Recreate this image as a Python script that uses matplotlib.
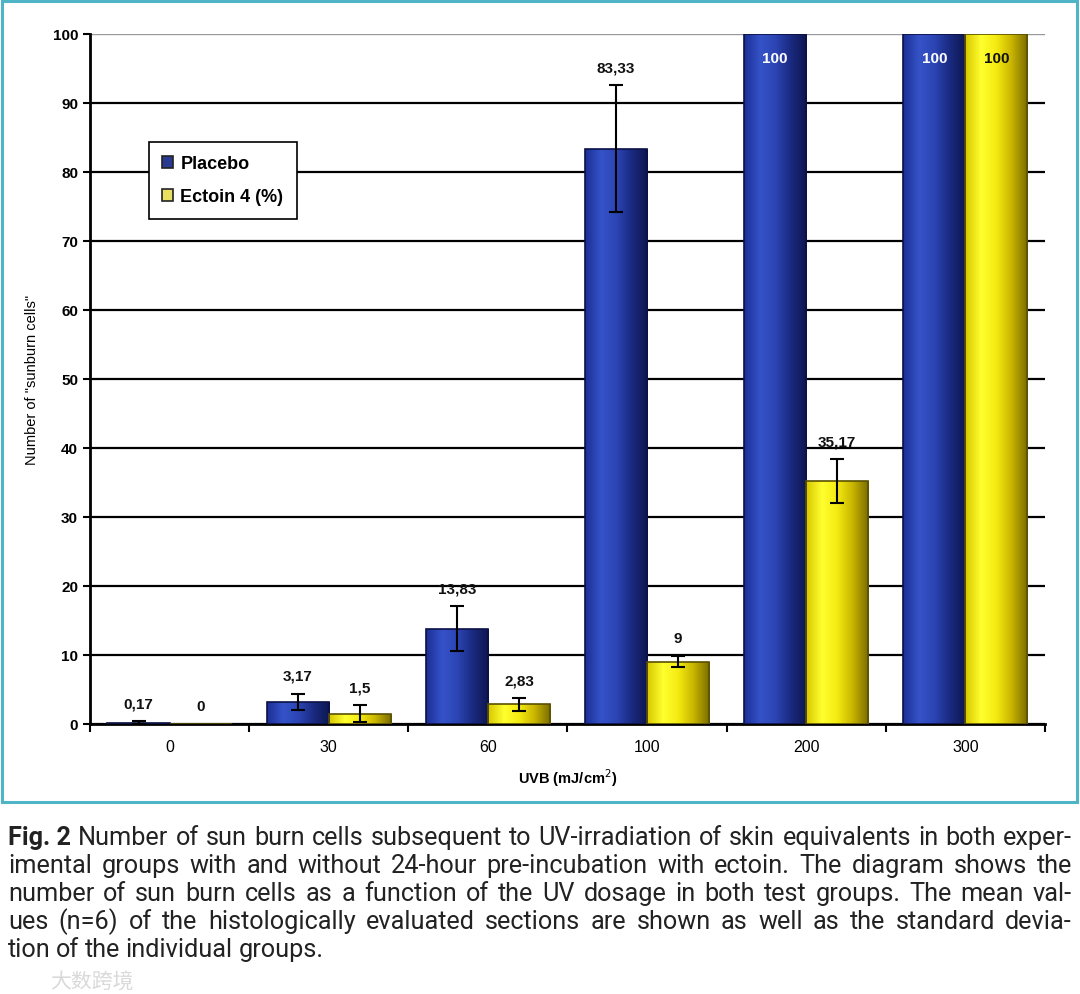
import numpy as np
import matplotlib
matplotlib.use("Agg")
import matplotlib.pyplot as plt
from matplotlib.colors import LinearSegmentedColormap
from matplotlib.patches import Rectangle

# data
doses = ["0", "30", "60", "100", "200", "300"]
placebo = [0.17, 3.17, 13.83, 83.33, 100, 100]
placebo_sd = [0.2, 1.2, 3.2, 9.2, 0, 0]
ectoin = [0, 1.5, 2.83, 9, 35.17, 100]
ectoin_sd = [0, 1.2, 0.9, 0.8, 3.2, 0]
series_names = ["Placebo", "Ectoin 4 (%)"]

caption = [
    "Number of sun burn cells subsequent to UV-irradiation of skin equivalents in both exper-",
    "imental groups with and without 24-hour pre-incubation with ectoin. The diagram shows the",
    "number of sun burn cells as a function of the UV dosage in both test groups. The mean val-",
    "ues (n=6) of the histologically evaluated sections are shown as well as the standard devia-",
    "tion of the individual groups.",
]

plt.rcParams['font.family'] = ['Liberation Sans', 'DejaVu Sans']

blue_cm = LinearSegmentedColormap.from_list(
    "b", ["#1c2f96", "#3553c8", "#2c45b4", "#1a2a80", "#0e1650"])
yellow_cm = LinearSegmentedColormap.from_list(
    "y", ["#d8c800", "#ffff30", "#f4ea10", "#c8b400", "#7a6c00"])

fig = plt.figure(figsize=(10.8, 9.95), dpi=100)
ax = fig.add_axes([0.0833, 0.2714, 0.8843, 0.6935])

x = np.arange(len(doses))
w = 0.39
grad = np.linspace(0, 1, 64).reshape(1, -1)


def shaded_bars(xs, vals, cmap, edge):
    bars = ax.bar(xs, vals, w, color="none", edgecolor=edge, linewidth=1.2, zorder=3)
    for b in bars:
        x0, y0 = b.get_x(), b.get_y()
        im = ax.imshow(grad, cmap=cmap, aspect="auto", zorder=2.9,
                       extent=[x0, x0 + b.get_width(), y0, y0 + b.get_height()])
        im.set_clip_path(b)
    return bars


bp = shaded_bars(x - w / 2, placebo, blue_cm, "#0b1245")
be = shaded_bars(x + w / 2, ectoin, yellow_cm, "#5a5000")

ekw = dict(fmt="none", ecolor="black", elinewidth=1.5, capsize=5, capthick=1.5, zorder=4)
for xs, vals, sd in [(x - w / 2, placebo, placebo_sd), (x + w / 2, ectoin, ectoin_sd)]:
    m = np.array(sd) > 0
    ax.errorbar(np.array(xs)[m], np.array(vals)[m], yerr=np.array(sd)[m], **ekw)

# value labels
for xs, vals, sd, inner in [(x - w / 2, placebo, placebo_sd, "white"),
                            (x + w / 2, ectoin, ectoin_sd, "#111111")]:
    for xi, v, s in zip(xs, vals, sd):
        txt = ("%g" % v).replace(".", ",")
        if v >= 100:
            ax.annotate(txt, (xi, v), xytext=(0, -12), textcoords="offset points",
                        ha="center", va="top", fontsize=11, fontweight="bold",
                        color=inner, zorder=5)
        else:
            ax.annotate(txt, (xi, v + s), xytext=(0, 8), textcoords="offset points",
                        ha="center", va="bottom", fontsize=11, fontweight="bold",
                        color="#111111", zorder=5)

ax.set_xlim(-0.5, len(doses) - 0.5)
ax.set_ylim(0, 100)
ax.set_yticks(np.arange(0, 101, 10))
ax.tick_params(axis="y", labelsize=11, length=5, width=1.5, direction="out")
for lab in ax.get_yticklabels():
    lab.set_fontweight("bold")
ax.set_xticks(x)
ax.set_xticklabels(doses, fontsize=11.5)
ax.set_xticks(np.arange(-0.5, len(doses), 1), minor=True)
ax.tick_params(axis="x", which="major", length=0, pad=11)
ax.tick_params(axis="x", which="minor", length=6, width=1.5, direction="out")
ax.grid(axis="y", color="black", linewidth=1.6, zorder=0)
ax.yaxis.get_gridlines()[-1].set_color("#999999")
ax.yaxis.get_gridlines()[-1].set_linewidth(1.0)
ax.set_axisbelow(True)
for side in ["top", "right"]:
    ax.spines[side].set_visible(False)
for side in ["left", "bottom"]:
    ax.spines[side].set_linewidth(2)

ax.set_xlabel("UVB (mJ/cm$^{2}$)", fontsize=10.5, fontweight="bold", labelpad=9)
ax.set_ylabel('Number of "sunburn cells"', fontsize=10.5, labelpad=10)

leg = ax.legend([bp, be], series_names, loc="upper left",
                bbox_to_anchor=(0.052, 0.857), fancybox=False, edgecolor="black",
                framealpha=1, prop=dict(weight="bold", size=13),
                handlelength=0.6, handleheight=0.6, handletextpad=0.4,
                labelspacing=0.9, borderpad=0.75)
leg.get_frame().set_linewidth(1.2)
for h, c in zip(leg.legend_handles, ["#2a3a90", "#e8e060"]):
    h.set_facecolor(c)
    h.set_edgecolor("#222222")

# cyan frame around the chart
fig.patches.append(Rectangle((0.002, 0.193), 0.995, 0.805, transform=fig.transFigure,
                             fill=False, edgecolor="#4fb5c6", linewidth=2.2))

# caption, justified; font size chosen so the longest line fits the width
cap_font = ['Roboto', 'DejaVu Sans']
renderer = fig.canvas.get_renderer()
left, right = 8, 1072
probe = fig.text(0, 0, "Fig. 2 " + caption[0], fontsize=20, family=cap_font)
longest = max(probe.get_window_extent(renderer).width,
              *[fig.text(0, 0, c, fontsize=20, family=cap_font).get_window_extent(renderer).width
                for c in caption[1:]])
for t in list(fig.texts):
    t.remove()
cap_size = 20 * (right - left) / longest * 0.985

for i, line in enumerate(caption):
    y = 995 - 845 - i * 28
    words = line.split(" ")
    if i == 0:
        words = ["\u0000Fig. 2"] + words
    pieces = []
    for wd in words:
        bold = wd.startswith("\u0000")
        t = fig.text(0, y / 995, wd.lstrip("\u0000"), fontsize=cap_size, family=cap_font,
                     fontweight="bold" if bold else "normal", color="#222222",
                     va="baseline", ha="left")
        pieces.append(t)
    widths = [t.get_window_extent(renderer).width for t in pieces]
    if i < len(caption) - 1:
        gap = (right - left - sum(widths)) / (len(pieces) - 1)
    else:
        gap = cap_size * 0.3
    pos = left
    for t, wd in zip(pieces, widths):
        t.set_x(pos / 1080)
        pos += wd + gap

fig.text(50 / 1080, 6 / 995, "大数跨境", fontsize=15, family=['Noto Sans CJK SC'],
         color="#d0d0d0", alpha=0.8)

fig.savefig("out.png", dpi=100, facecolor="white")
